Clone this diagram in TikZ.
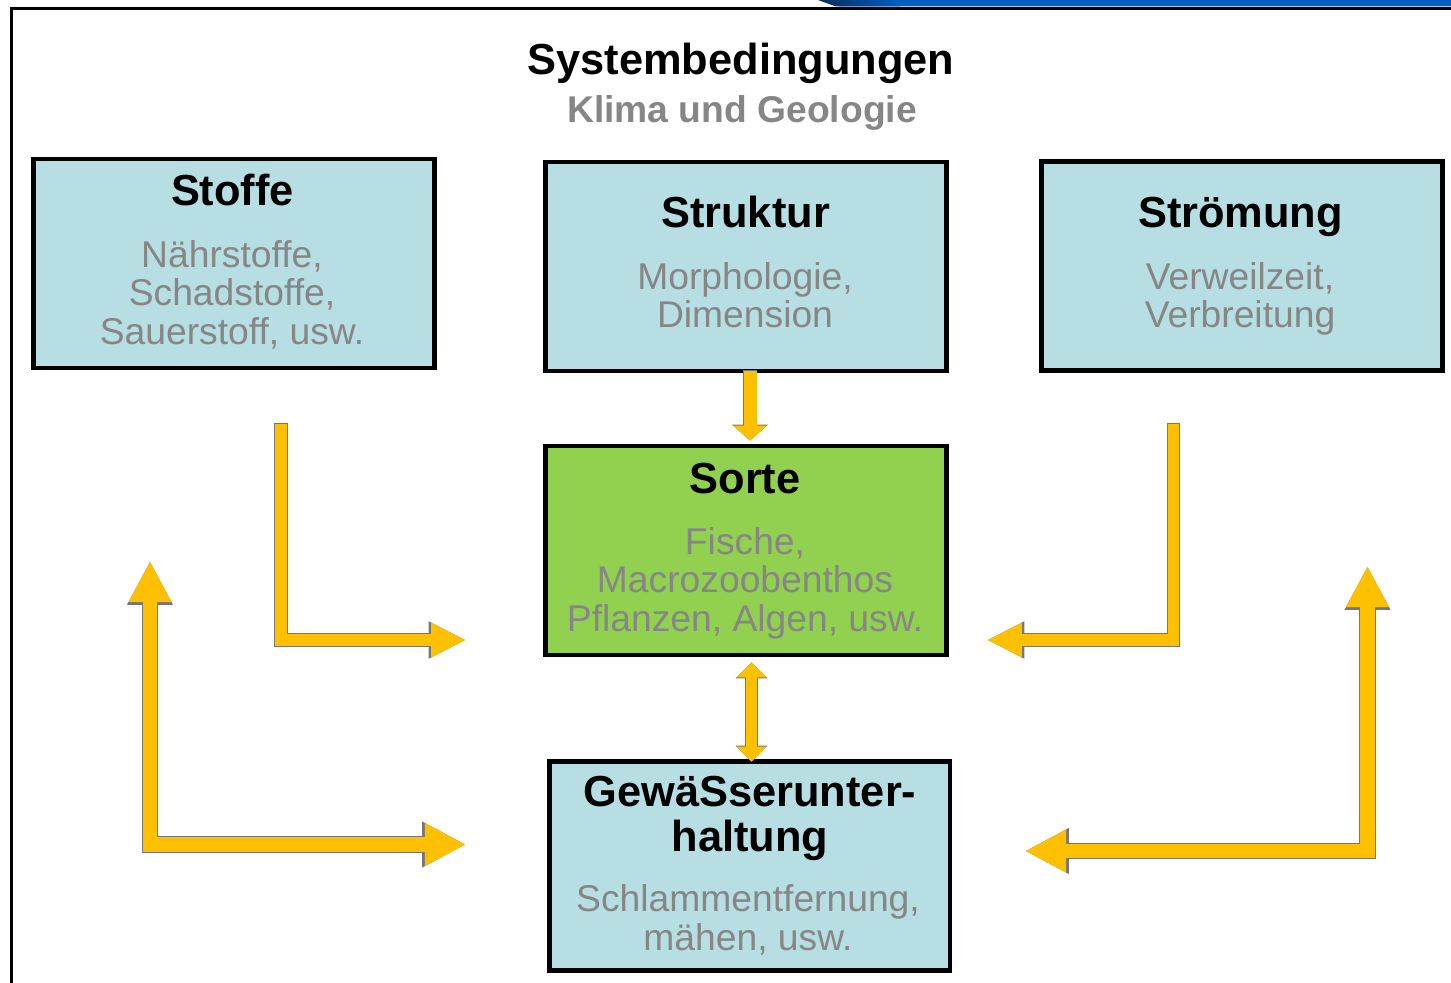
\documentclass[tikz,border=0pt]{standalone}
\usepackage{fontspec}
\setmainfont{Liberation Sans}
\usetikzlibrary{arrows.meta,calc}

\definecolor{boxblue}{HTML}{B7DEE2}
\definecolor{sortegreen}{HTML}{92D050}
\definecolor{arrowyellow}{HTML}{FFC000}
\definecolor{arrowgray}{HTML}{767676}
\definecolor{bodygray}{HTML}{868686}
\definecolor{barblue}{HTML}{0060C0}
\definecolor{barnavy}{HTML}{0A2A5C}

\tikzset{
  box/.style={draw=black, line width=2.8pt, fill=boxblue, minimum width=8.02cm,
    minimum height=4.18cm, inner sep=0pt},
  head/.style={font=\bfseries\fontsize{24.7}{25.4}\selectfont, align=center,
    anchor=base, inner sep=0pt},
  body/.style={font=\fontsize{21.2}{21.9}\selectfont, text=bodygray, align=center,
    anchor=base, inner sep=0pt},
  flow/.style n args={4}{draw=arrowyellow, line width=#1, line join=miter,
    -{Triangle[width=#2,length=#3,line width=0pt]},
    preaction={draw=arrowgray, line width=#4, shorten <=-0.55pt,
      -{Triangle[width=#2,length=#3,line width=0pt,scale=1.07]}}},
  flowboth/.style n args={4}{draw=arrowyellow, line width=#1, line join=miter,
    {Triangle[width=#2,length=#3,line width=0pt]}-{Triangle[width=#2,length=#3,line width=0pt]},
    preaction={draw=arrowgray, line width=#4,
      {Triangle[width=#2,length=#3,line width=0pt,scale=1.07]}-{Triangle[width=#2,length=#3,line width=0pt,scale=1.07]}}}
}

\begin{document}
\begin{tikzpicture}[x=0.02cm, y=-0.02cm]
    \useasboundingbox (0,0) rectangle (1451,983);
    % frame and blue bar
    \fill[barblue] (833,0) -- (1451,0) -- (1451,6.5) -- (840,6.5) -- cycle;
    \shade[left color=barnavy, right color=barblue] (818,0) -- (900,0) -- (900,6.5) -- (836,6.5) -- cycle;
    \draw[line width=1.7pt] (11.5,983) -- (11.5,8.5) -- (1451,8.5);

    \node[head] (sys) at (741,75) {Systembedingungen};
    \node[head, font=\bfseries\fontsize{21.2}{22}\selectfont, text=bodygray] (klima) at (742,123) {Klima und Geologie};

    % boxes
    \node[box] (stoffe) at (234,263.5) {};
    \node[box] (struktur) at (746,266.5) {};
    \node[box] (stroemung) at (1242,266) {};
    \node[box, fill=sortegreen] (sorte) at (746,550.5) {};
    \node[box] (gewaesser) at (749.5,866) {};

    % texts, placed at the baseline of their last line
    \node[head] (stoffeH) at (232.5,206) {Stoffe};
    \node[body] (stoffeB) at (232,344) {Nährstoffe,\\Schadstoffe,\\Sauerstoff, usw.};
    \node[head] (strukturH) at (745.5,228) {Struktur};
    \node[body] (strukturB) at (745,327.5) {Morphologie,\\Dimension};
    \node[head] (stroemungH) at (1240.5,228) {Strömung};
    \node[body] (stroemungB) at (1240,327.5) {Verweilzeit,\\Verbreitung};
    \node[head] (sorteH) at (745,493) {Sorte};
    \node[body] (sorteB) at (745,631) {Fische,\\Macrozoobenthos\\Pflanzen, Algen, usw.};
    \node[head] (gewaesserH) at (750,851) {GewäSserunter-\\haltung};
    \node[body] (gewaesserB) at (748,950) {Schlammentfernung,\\mähen, usw.};

    % arrows
    \coordinate (stoffeOut) at (281,424);
    \coordinate (sorteInL) at (465,640);
    \coordinate (stroemOut) at (1173.5,424);
    \coordinate (sorteInR) at (988,640);
    \coordinate (upL) at (150,562);
    \coordinate (pflegeInL) at (465,844.5);
    \coordinate (upR) at (1367.5,567);
    \coordinate (pflegeInR) at (1026,851);
    \coordinate (midS) at (750,0);
    \coordinate (midA) at (751.5,0);

    \draw[flow={6.8pt}{19.9pt}{19.3pt}{7.9pt}] (stoffeOut) |- (sorteInL);
    \draw[flow={6.8pt}{19.9pt}{19.3pt}{7.9pt}] (stroemOut) |- (sorteInR);
    \draw[flowboth={8.2pt}{24.5pt}{22.8pt}{9.3pt}] (upL) |- (pflegeInL);
    \draw[flowboth={8.2pt}{24.5pt}{22.8pt}{9.3pt}] (upR) |- (pflegeInR);
    \draw[flow={7.4pt}{19.3pt}{8.5pt}{8.5pt}] ($(struktur.south -| midS)+(0,-2)$) -- ($(sorte.north -| midS)+(0,-3)$);
    \draw[flowboth={6.8pt}{17pt}{8.5pt}{7.9pt}] ($(sorte.south -| midA)+(0,5)$) -- ($(gewaesser.north -| midA)+(0,2.5)$);
\end{tikzpicture}
\end{document}
